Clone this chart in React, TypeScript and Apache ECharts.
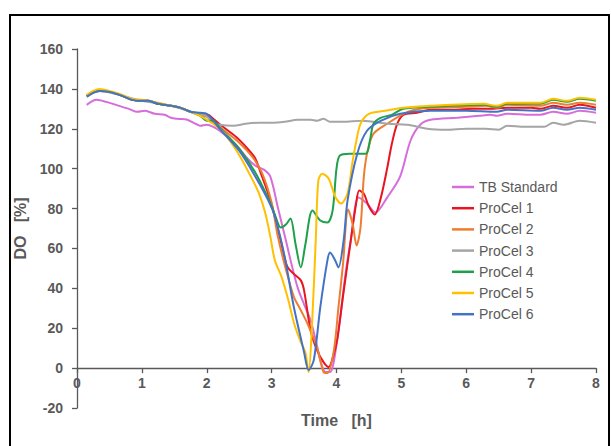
import React, { useEffect, useRef } from "react";
import * as echarts from "echarts";

type Pt = [number, number];

const seriesNames = ["TB Standard", "ProCel 1", "ProCel 2", "ProCel 3", "ProCel 4", "ProCel 5", "ProCel 6"];
const seriesColors = ["#D66DDB", "#E8141E", "#ED7D31", "#A5A5A5", "#1FA04A", "#FFC000", "#4472C4"];

const tbStandard: Pt[] = [[0.15,132],[0.3,134.5],[0.45,133.5],[0.6,132],[0.8,130],[0.93,128.5],[1.05,129],[1.2,127.5],[1.35,127],[1.45,125.5],[1.55,125],[1.7,124.5],[1.8,123],[1.9,121.5],[2.0,122],[2.1,121],[2.2,119],[2.45,112],[2.63,105],[2.75,101.5],[2.88,99.5],[2.98,96],[3.1,80],[3.22,64],[3.3,53],[3.4,40.5],[3.5,32],[3.6,24],[3.68,14],[3.75,4],[3.83,-2],[3.9,-2],[4.01,14],[4.14,47.5],[4.22,64],[4.34,85.5],[4.47,82.5],[4.6,78],[4.78,85.5],[4.98,96],[5.14,114],[5.29,122],[5.45,124.5],[5.86,125.5],[6.2,126.5],[6.37,127],[6.47,126.5],[6.63,127.5],[7.0,127],[7.14,127],[7.34,128.5],[7.55,127.5],[7.75,129],[8.0,128]];

const proCel1: Pt[] = [[0.15,136.5],[0.25,138.5],[0.35,139],[0.5,138.5],[0.7,136.5],[0.85,134.5],[1.0,134],[1.1,134],[1.25,132.5],[1.45,131.5],[1.6,130.5],[1.75,128.5],[1.88,127.5],[1.95,126],[2.02,127],[2.1,125],[2.25,121],[2.45,116],[2.63,110],[2.75,105],[2.83,98],[2.92,90],[3.0,82],[3.14,64],[3.24,51],[3.35,47],[3.45,44],[3.5,39],[3.6,19],[3.7,9],[3.8,3],[3.88,0.5],[3.95,6],[4.01,14],[4.1,36],[4.22,64],[4.3,82],[4.35,89],[4.42,87.5],[4.5,81],[4.59,77],[4.68,85],[4.78,100],[4.85,112],[4.93,122],[5.03,127],[5.24,128],[5.45,129.5],[5.8,129.5],[6.1,130],[6.37,130],[6.63,130.5],[7.0,130.5],[7.14,130],[7.34,131.5],[7.55,130.5],[7.75,132],[8.0,130.5]];

const proCel2: Pt[] = [[0.15,136.5],[0.25,138.5],[0.35,139.5],[0.5,138.5],[0.7,136.5],[0.85,134.5],[1.0,134],[1.1,134],[1.25,132.5],[1.45,131.5],[1.6,130.5],[1.75,128.5],[1.9,127.5],[2.0,126.5],[2.2,121],[2.5,113],[2.7,106],[2.85,98],[3.0,83],[3.09,67],[3.2,52],[3.34,36],[3.45,29],[3.55,22.5],[3.7,10.5],[3.8,-2],[3.86,-2.5],[3.96,9],[4.03,30.5],[4.1,52],[4.18,79.5],[4.25,72],[4.31,61.5],[4.37,70.5],[4.42,95.5],[4.47,107.5],[4.57,117.5],[4.78,122.5],[5.03,127.5],[5.2,129.5],[5.45,130.5],[6.0,131],[6.3,131.5],[6.47,130.5],[6.63,132],[7.14,131.5],[7.34,133],[7.55,132],[7.75,133],[8.0,132]];

const proCel3: Pt[] = [[0.15,136.5],[0.35,139],[0.7,136.5],[1.0,134],[1.45,131.5],[1.75,128.5],[2.0,126],[2.1,123],[2.2,122],[2.4,121.5],[2.6,122.5],[2.8,123],[3.0,123],[3.2,123.5],[3.4,124.5],[3.6,124.5],[3.7,124],[3.8,125],[3.9,123.5],[4.1,123.5],[4.4,124],[4.8,122.5],[5.1,122],[5.4,120],[5.7,119.5],[6.0,120],[6.3,120],[6.5,119.5],[6.63,121.5],[6.9,121],[7.2,121],[7.34,123],[7.5,122],[7.75,124],[8.0,123]];

const proCel4: Pt[] = [[0.15,136.5],[0.25,138.5],[0.35,139.5],[0.5,138.5],[0.7,136.5],[0.85,134.5],[1.0,134],[1.1,134],[1.25,132.5],[1.45,131.5],[1.6,130.5],[1.75,128.5],[1.9,126.5],[2.0,124],[2.1,124],[2.2,120.5],[2.5,110],[2.75,98],[2.95,85],[3.05,77],[3.14,70.5],[3.22,72],[3.29,75],[3.37,62],[3.45,50.5],[3.52,62],[3.63,79],[3.75,74],[3.86,73],[3.94,79],[4.0,100],[4.05,106.5],[4.2,107.5],[4.45,107.5],[4.52,115],[4.57,122.5],[4.68,125.5],[4.85,127],[5.03,130],[5.45,131],[6.27,132],[6.47,131],[6.63,132.5],[7.14,132.5],[7.34,134.5],[7.55,133.5],[7.75,135],[8.0,134]];

const proCel5: Pt[] = [[0.15,137],[0.25,139],[0.35,140],[0.5,139],[0.7,137],[0.85,135],[1.0,134.5],[1.1,134],[1.25,133],[1.45,131.5],[1.6,130.5],[1.75,128.5],[1.9,126.5],[2.0,124.5],[2.1,122.5],[2.26,118],[2.42,111],[2.55,104],[2.68,96],[2.8,88],[2.9,78],[2.98,66],[3.05,54],[3.15,46],[3.25,35],[3.35,22],[3.45,13],[3.52,8],[3.57,-2],[3.62,20],[3.68,64],[3.72,94],[3.78,97.5],[3.88,95],[3.98,86],[4.07,82.5],[4.17,87.5],[4.25,104],[4.3,113],[4.37,122.5],[4.5,127.5],[4.75,129],[5.03,130.5],[5.45,131.5],[6.27,132.5],[6.47,131.5],[6.63,133],[7.14,133],[7.34,135],[7.55,134],[7.75,135.5],[8.0,134.5]];

const proCel6: Pt[] = [[0.15,136],[0.25,138],[0.35,139],[0.5,138.5],[0.7,136.5],[0.85,134.5],[1.0,134],[1.1,134],[1.25,132.5],[1.45,131.5],[1.6,130.5],[1.75,128.5],[1.9,128],[2.0,127.5],[2.2,120],[2.5,109],[2.75,96],[2.95,84],[3.05,76],[3.2,56],[3.34,31],[3.5,8],[3.57,-1],[3.65,4],[3.75,30.5],[3.86,54],[3.9,58],[3.98,54],[4.03,50.5],[4.11,64],[4.17,84],[4.32,107.5],[4.47,119],[4.68,124],[4.98,127.5],[5.45,129],[6.0,129],[6.47,128.5],[6.63,129.5],[7.14,129],[7.34,130.5],[7.55,129.5],[7.75,130.5],[8.0,129.5]];

const allSeries: Pt[][] = [tbStandard, proCel1, proCel2, proCel3, proCel4, proCel5, proCel6];

const FONT = "'Liberation Sans', Arial, sans-serif";
const AXIS_GRAY = "#595959";

const GRID_TOP = 49;
const GRID_BOTTOM = 38;
const CHART_H = 446;
const Y_MIN = -20;
const Y_MAX = 160;
// shift the x axis (line, ticks, labels, name) up so it sits at y = 0
const xAxisOffset = -((0 - Y_MIN) / (Y_MAX - Y_MIN)) * (CHART_H - GRID_TOP - GRID_BOTTOM);

export default function App() {
  const ref = useRef<HTMLDivElement>(null);
  useEffect(() => {
    if (!ref.current) return;
    const chart = echarts.init(ref.current, null, { renderer: "svg" });
    chart.setOption({
      animation: false,
      backgroundColor: "#ffffff",
      grid: { left: 77, right: 15, top: GRID_TOP, bottom: GRID_BOTTOM, containLabel: false, outerBoundsMode: "none" },
      legend: {
        orient: "vertical",
        left: 447,
        top: 175,
        itemWidth: 22,
        itemHeight: 2.5,
        itemGap: 7.2,
        icon: "rect",
        data: seriesNames,
        textStyle: { fontSize: 14, color: AXIS_GRAY, fontFamily: FONT, lineHeight: 14 },
      },
      xAxis: {
        type: "value",
        min: 0,
        max: 8,
        interval: 1,
        offset: xAxisOffset,
        name: "Time   [h]",
        nameLocation: "middle",
        nameGap: 44,
        nameTextStyle: { fontSize: 16, fontWeight: "bold", color: AXIS_GRAY, fontFamily: FONT },
        axisLine: { onZero: false, lineStyle: { color: AXIS_GRAY, width: 1.3 } },
        axisTick: { show: true, length: 5, lineStyle: { color: AXIS_GRAY, width: 1.3 } },
        axisLabel: { fontSize: 14, fontWeight: "bold", color: AXIS_GRAY, fontFamily: FONT, margin: 8, showMinLabel: true, showMaxLabel: true },
        splitLine: { show: false },
      },
      yAxis: {
        type: "value",
        min: Y_MIN,
        max: Y_MAX,
        interval: 20,
        name: "DO   [%]",
        nameLocation: "middle",
        nameGap: 38,
        nameTextStyle: { fontSize: 16, fontWeight: "bold", color: AXIS_GRAY, fontFamily: FONT },
        axisLine: { show: true, onZero: false, lineStyle: { color: AXIS_GRAY, width: 1.3 } },
        axisTick: { show: true, length: 5, lineStyle: { color: AXIS_GRAY, width: 1.3 } },
        axisLabel: { fontSize: 14, fontWeight: "bold", color: AXIS_GRAY, fontFamily: FONT, margin: 14 },
        splitLine: { show: false },
      },
      graphic: [
        {
          type: "rect",
          silent: true,
          z: 100,
          shape: { x: 10, y: 15, width: 599, height: 445 },
          style: { fill: "none", stroke: "#000000", lineWidth: 2 },
        },
      ],
      series: allSeries.map((d, i) => ({
        name: seriesNames[i],
        type: "line",
        data: d,
        smooth: 0.3,
        showSymbol: false,
        symbol: "none",
        lineStyle: { width: 2, color: seriesColors[i] },
        itemStyle: { color: seriesColors[i] },
      })),
    });
    return () => chart.dispose();
  }, []);
  return (
    <div
      ref={ref}
      style={{ position: "absolute", left: 0, top: 0, width: 611, height: 446, background: "#fff" }}
    />
  );
}
